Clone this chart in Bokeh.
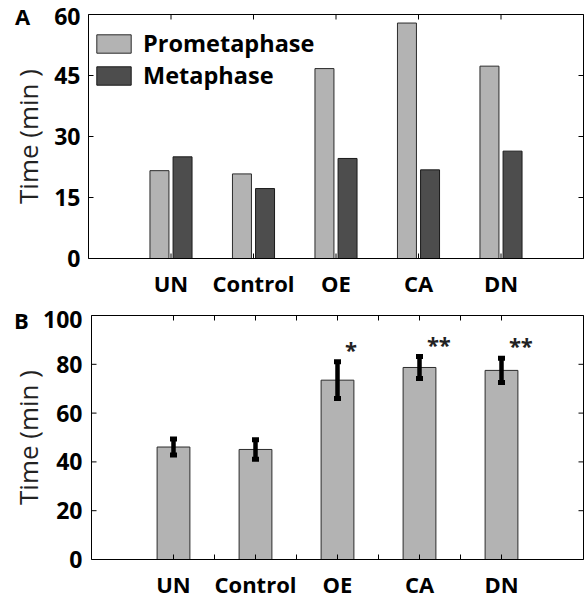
import math
from bokeh.plotting import figure
from bokeh.layouts import column
from bokeh.models import Range1d, Legend, LegendItem
from bokeh.core.properties import value
from bokeh.embed import file_html
from bokeh.resources import INLINE

# ---------------- data ----------------
groups = ["UN", "Control", "OE", "CA", "DN"]
prometaphase = [21.6, 20.8, 46.7, 57.9, 47.3]
metaphase = [25.0, 17.2, 24.6, 21.8, 26.4]
total_mean = [46.1, 45.1, 73.5, 78.7, 77.5]
total_err = [3.3, 4.0, 7.5, 4.5, 5.0]
significance = ["", "", "*", "**", "**"]
ticks_a = [0, 15, 30, 45, 60]
ticks_b = [0, 20, 40, 60, 80, 100]
y_title = "Time (min )"

FONT = "Open Sans"
LIGHT = "#b3b3b3"
DARK = "#4d4d4d"
EDGE = "#2b2b2b"
W = 584

pos = [i + 1 for i in range(len(groups))]
half_pos = [1 + 0.5 * i for i in range(2 * len(groups) - 1)]
XMAX = len(groups) + 1


def make_panel(height, box_left, box_top, box_bottom, box_right, yticks,
               letter, letter_dx, letter_dy, label_standoff, top_label_shift):
    ymax = yticks[-1]
    ux = XMAX / (box_right - box_left)          # data units per pixel (x)
    uy = ymax / (box_bottom - box_top)          # data units per pixel (y)
    p = figure(width=W, height=height,
               x_range=Range1d(-box_left * ux, XMAX + (W - box_right) * ux),
               y_range=Range1d(-(height - box_bottom) * uy, ymax + box_top * uy),
               output_backend="svg", toolbar_location=None,
               min_border_left=0, min_border_right=0, min_border_top=0,
               min_border_bottom=0)
    p.grid.visible = False
    p.outline_line_color = None
    p.xaxis.visible = False
    p.yaxis.visible = False
    # category labels under the box
    p.text(x=pos, y=[0] * len(pos), text=groups, y_offset=24,
           text_align="center", text_baseline="middle",
           text_font=value(FONT), text_font_style="bold", text_font_size="22px",
           text_color="black")
    # y tick labels (top one nudged down slightly, as in the original)
    shifts = [0] * (len(yticks) - 1) + [top_label_shift]
    p.text(x=[0] * len(yticks), y=yticks, text=[str(t) for t in yticks],
           x_offset=-label_standoff, y_offset=shifts,
           text_align="right", text_baseline="middle",
           text_font=value(FONT), text_font_style="bold", text_font_size="23px",
           text_color="black")
    p.text(x=[0], y=[ymax / 2], text=[y_title], angle=math.pi / 2,
           x_offset=-(box_left - 27), text_align="center", text_baseline="middle",
           text_font=value(FONT), text_font_size="26px", text_color="#222222")
    p.text(x=[0], y=[ymax], text=[letter], x_offset=letter_dx, y_offset=letter_dy,
           text_align="center", text_baseline="middle",
           text_font=value(FONT), text_font_style="bold", text_font_size="22px",
           text_color="black")
    return p, ymax


def add_box(p, xticks, yticks, ymax):
    tk = dict(length=5, length_units="screen", line_color="black", line_width=1)
    p.ray(x=xticks, y=[ymax] * len(xticks), angle=-math.pi / 2, **tk)
    p.ray(x=xticks, y=[0] * len(xticks), angle=math.pi / 2, **tk)
    p.ray(x=[XMAX] * len(yticks), y=yticks, angle=math.pi, **tk)
    p.ray(x=[0] * len(yticks), y=yticks, angle=0, **tk)
    p.quad(left=[0], right=[XMAX], bottom=[0], top=[ymax], fill_color=None,
           line_color="black", line_width=1)


# ---------------- panel A ----------------
pa, ymax_a = make_panel(300, 88, 14, 258, 583, ticks_a, "A", -66, 1, 8, 2)
r1 = pa.vbar(x=[x - 0.14 for x in pos], top=prometaphase, width=0.23, bottom=0,
             fill_color=LIGHT, line_color=EDGE, line_width=1)
r2 = pa.vbar(x=[x + 0.14 for x in pos], top=metaphase, width=0.23, bottom=0,
             fill_color=DARK, line_color="#1a1a1a", line_width=1)
add_box(pa, pos, ticks_a, ymax_a)
leg = Legend(items=[LegendItem(label="Prometaphase", renderers=[r1]),
                    LegendItem(label="Metaphase", renderers=[r2])],
             location=(92, 209), padding=0, margin=0, spacing=-3,
             glyph_width=43, glyph_height=23, label_standoff=8,
             label_text_font=FONT, label_text_font_style="bold",
             label_text_font_size="23.5px", label_text_color="black",
             border_line_color=None, background_fill_alpha=0)
pa.add_layout(leg, "center")

# ---------------- panel B ----------------
pb, ymax_b = make_panel(301, 91, 15, 259, 583, ticks_b, "B", -70, 4, 9, 4)
pb.vbar(x=pos, top=total_mean, width=0.4, bottom=0,
        fill_color=LIGHT, line_color=EDGE, line_width=1)
lo = [m - e for m, e in zip(total_mean, total_err)]
hi = [m + e for m, e in zip(total_mean, total_err)]
pb.segment(x0=pos, y0=lo, x1=pos, y1=hi, line_color="black", line_width=4.5)
pb.rect(x=pos + pos, y=lo + hi, width=7, height=5, width_units="screen",
        height_units="screen", fill_color="black", line_color=None)
pb.text(x=[x + 0.09 for x in pos], y=[h + 5.3 for h in hi], text=significance,
        text_font=value(FONT), text_font_size="22px", text_font_style="bold",
        text_align="left", text_baseline="middle", text_color="#222222")
add_box(pb, half_pos, ticks_b, ymax_b)

layout = column(pa, pb, spacing=0)
open("out.html", "w").write(file_html(layout, INLINE))
